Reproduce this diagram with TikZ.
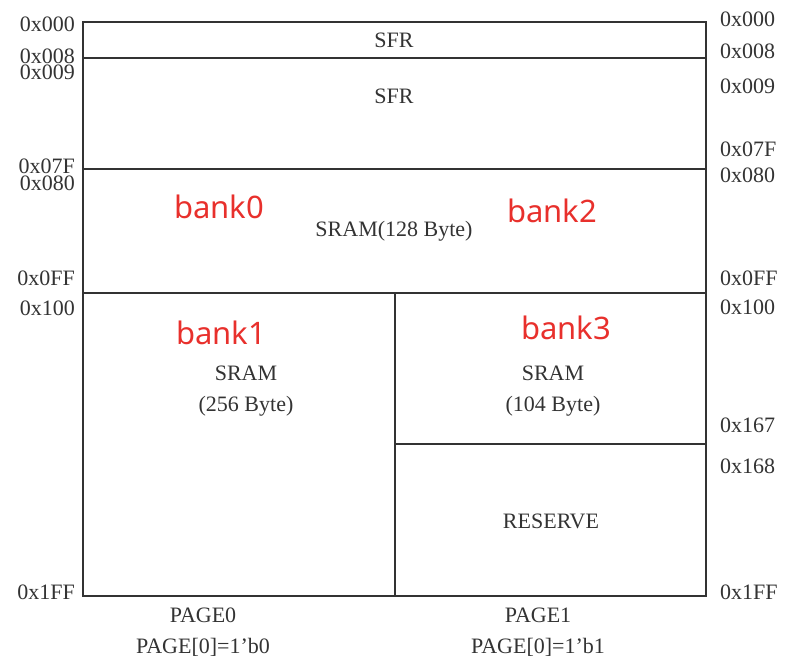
\documentclass[tikz,border=0pt]{standalone}
\usepackage{fontspec}
\setmainfont{Liberation Serif}
\newfontfamily\banksans{Noto Sans}
\definecolor{linegray}{HTML}{333333}
\definecolor{txtgray}{HTML}{333333}
\definecolor{bankred}{HTML}{E8302C}
\begin{document}
\begin{tikzpicture}[x=1pt,y=-1pt,
  addr/.style={font=\fontsize{22}{24}\selectfont, text=txtgray, inner sep=0pt},
  laddr/.style={addr, anchor=east},
  raddr/.style={addr, anchor=west},
  region/.style={font=\fontsize{22}{31}\selectfont, text=txtgray, inner sep=0pt, align=center},
  banklabel/.style={font=\banksans\fontsize{31}{33}\selectfont, text=bankred, inner sep=0pt},
  wall/.style={draw=linegray, line width=1.8pt}]
\useasboundingbox (0,0) rectangle (788,659);
% frame coordinates
\coordinate (tl) at (83,22);
\coordinate (br) at (706,596);
\coordinate (a8L) at (83,58);   \coordinate (a8R) at (706,58);
\coordinate (a7L) at (83,169);  \coordinate (a7R) at (706,169);
\coordinate (aFL) at (83,293);  \coordinate (aFR) at (706,293);
\coordinate (divT) at (395,293); \coordinate (divB) at (395,596);
\coordinate (a67L) at (395,444); \coordinate (a67R) at (706,444);
\draw[wall] (tl) rectangle (br);
\draw[wall] (a8L) -- (a8R);
\draw[wall] (a7L) -- (a7R);
\draw[wall] (aFL) -- (aFR);
\draw[wall] (divT) -- (divB);
\draw[wall] (a67L) -- (a67R);
% left addresses
\node[laddr] (l000) at (75,24) {0x000};
\node[laddr] (l008) at (75,56) {0x008};
\node[laddr] (l009) at (75,72) {0x009};
\node[laddr] (l07F) at (75,166) {0x07F};
\node[laddr] (l080) at (75,183) {0x080};
\node[laddr] (l0FF) at (75,278) {0x0FF};
\node[laddr] (l100) at (75,308) {0x100};
\node[laddr] (l1FF) at (75,592) {0x1FF};
% right addresses
\node[raddr] (r000) at (720,19) {0x000};
\node[raddr] (r008) at (720,51) {0x008};
\node[raddr] (r009) at (720,86) {0x009};
\node[raddr] (r07F) at (720,149) {0x07F};
\node[raddr] (r080) at (720,175) {0x080};
\node[raddr] (r0FF) at (720,278) {0x0FF};
\node[raddr] (r100) at (720,307) {0x100};
\node[raddr] (r167) at (720,425) {0x167};
\node[raddr] (r168) at (720,466) {0x168};
\node[raddr] (r1FF) at (720,592) {0x1FF};
% regions
\node[region] (sfr1) at (394,40) {SFR};
\node[region] (sfr2) at (394,96) {SFR};
\node[region] (sram128) at (394,231) {SRAM(128 Byte)};
\node[region] (sram256) at (246,391) {SRAM\\(256 Byte)};
\node[region] (sram104) at (553,391) {SRAM\\(104 Byte)};
\node[region] (reserve) at (551,521) {RESERVE};
\node[region] (page0) at (203,632) {PAGE0\\PAGE[0]=1’b0};
\node[region] (page1) at (538,632) {PAGE1\\PAGE[0]=1’b1};
% banks
\node[banklabel] (bank0) at (219,207) {bank0};
\node[banklabel] (bank2) at (552,211) {bank2};
\node[banklabel] (bank1) at (221,333) {bank1};
\node[banklabel] (bank3) at (566,328) {bank3};
\end{tikzpicture}
\end{document}
